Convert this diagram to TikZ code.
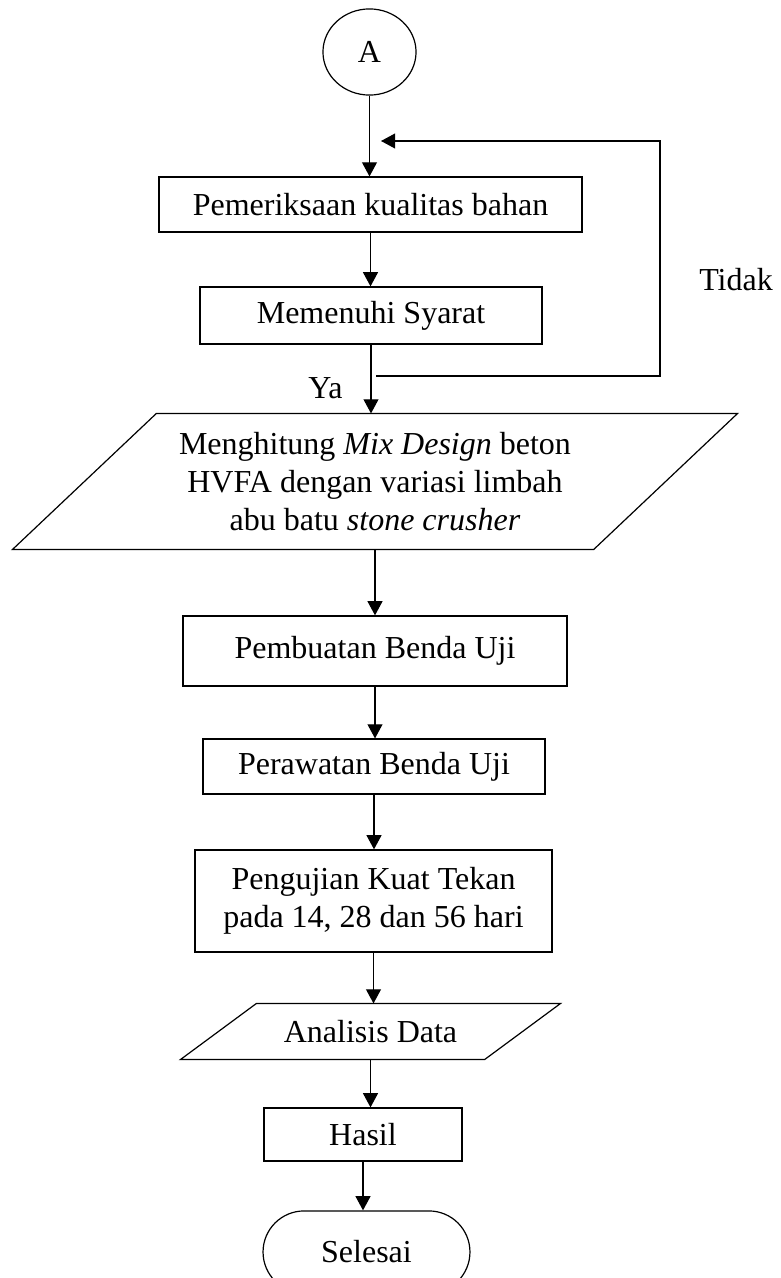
\documentclass[tikz,border=0pt]{standalone}
\usepackage{fontspec}
\setmainfont{Liberation Serif}
\usepackage{tikz}
\usetikzlibrary{positioning,arrows.meta,calc,shapes.geometric}

\begin{document}
\begin{tikzpicture}[x=0.375pt,y=-0.375pt,>={Triangle[length=5.3pt,width=5.6pt]},line width=0.45pt,every node/.style={font=\fontsize{12}{14.2}\selectfont}]
\tikzstyle{blk}=[draw,rectangle,inner sep=0pt,align=center]
\tikzstyle{txt}=[inner sep=0pt,align=center]
\useasboundingbox (0,0) rectangle (780,1278);
\clip (0,0) rectangle (780,1278);
\node[draw,ellipse,inner sep=0pt,minimum width=34.9pt,minimum height=32.3pt] (conA) at (369.5,52) {A};
\node[blk,minimum width=158.6pt,minimum height=20.6pt] (periksa) at (370.5,204.5) {Pemeriksaan kualitas bahan};
\node[blk,minimum width=128.3pt,minimum height=21.4pt] (syarat) at (371,315.5) {Memenuhi Syarat};
\node[txt,minimum width=271.5pt,minimum height=50.6pt] (mix) at (375,481.5) {Menghitung \textit{Mix Design} beton\\HVFA dengan variasi limbah\\abu batu \textit{stone crusher}};
\draw ([xshift=54pt]mix.north west) -- (mix.north east) -- ([xshift=-54pt]mix.south east) -- (mix.south west) -- cycle;
\node[blk,minimum width=144pt,minimum height=26.3pt] (buat) at (375,651) {Pembuatan Benda Uji};
\node[blk,minimum width=128.3pt,minimum height=20.6pt] (rawat) at (374,766.5) {Perawatan Benda Uji};
\node[blk,minimum width=133.9pt,minimum height=38.3pt] (uji) at (373.5,901) {Pengujian Kuat Tekan\\pada 14, 28 dan 56 hari};
\node[txt,minimum width=142.1pt,minimum height=20.6pt] (analisis) at (370.5,1031.5) {Analisis Data};
\draw ([xshift=28.5pt]analisis.north west) -- (analisis.north east) -- ([xshift=-28.5pt]analisis.south east) -- (analisis.south west) -- cycle;
\node[blk,minimum width=74.3pt,minimum height=19.9pt] (hasil) at (363,1134.5) {Hasil};
\node[blk,rounded corners=15.4pt,minimum width=77.6pt,minimum height=30.8pt] (selesai) at (366.5,1252) {Selesai};
\node[txt] (ya) at (325.5,388) {Ya};
\node[txt] (tidak) at (736,280) {Tidak};
% garis alur utama
\draw[->] (conA.south) -- (conA.south |- periksa.north); \draw[->] (periksa.south) -- (periksa.south |- syarat.north);
\draw[->] (syarat.south) -- (syarat.south |- mix.north); \draw[->] (mix.south) -- (mix.south |- buat.north);
\draw[->] (buat.south) -- (buat.south |- rawat.north); \draw[->] (rawat.south) -- (rawat.south |- uji.north);
\draw[->] (uji.south) -- (uji.south |- analisis.north); \draw[->] (analisis.south) -- (analisis.south |- hasil.north);
\draw[->] (hasil.south) -- (hasil.south |- selesai.north);
% balik ke pemeriksaan
\coordinate (ulang) at (376,376); \coordinate (sudut) at (660,141); \coordinate (balik) at (381,141);
\draw[->] (ulang) -| (sudut) -- (balik);
\end{tikzpicture}
\end{document}
